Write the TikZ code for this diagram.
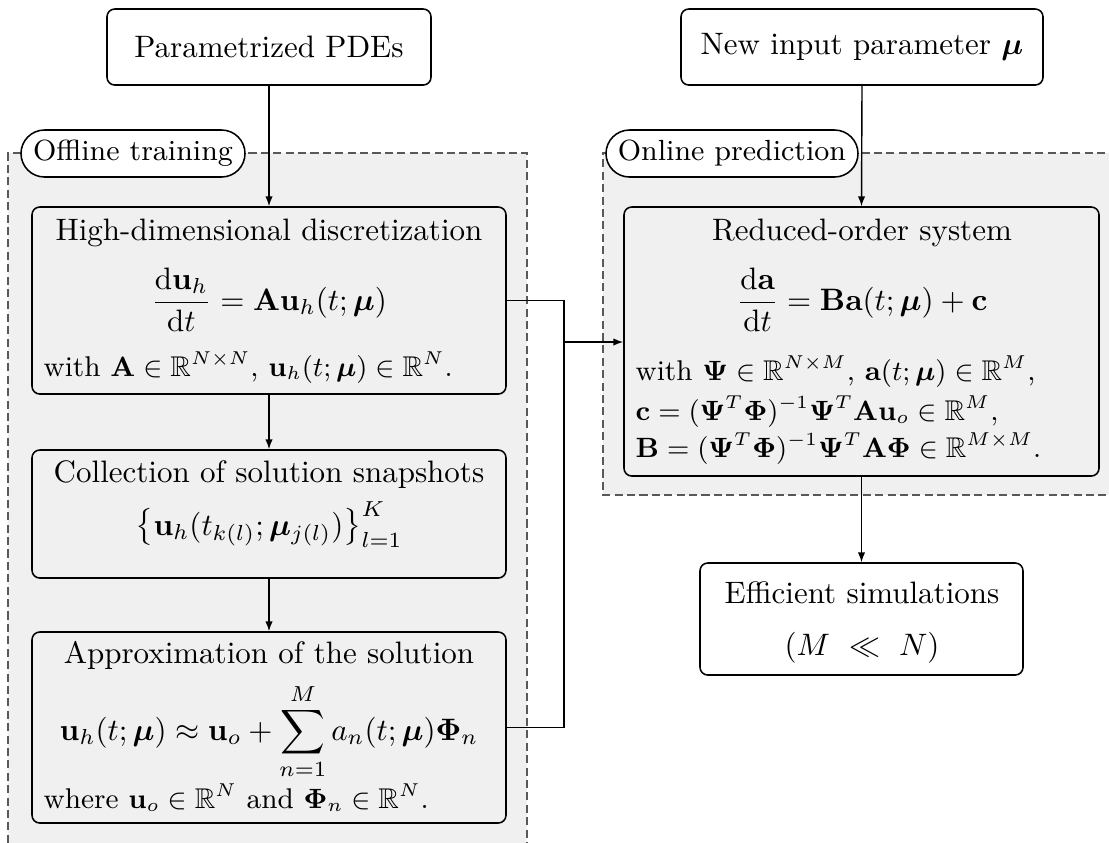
\documentclass[tikz,border=0pt]{standalone}
\usepackage{amsmath,amssymb,bm}
\usetikzlibrary{arrows.meta,shapes.misc}
\definecolor{regiongray}{gray}{0.94}
\definecolor{dashgray}{gray}{0.35}
\begin{document}
\begin{tikzpicture}[x=0.3225pt,y=-0.3225pt,
  box/.style={draw=black, rounded corners=2.5pt, fill=white, inner sep=0pt, line width=0.5pt},
  gbox/.style={box, fill=regiongray},
  pill/.style={draw=black, rounded rectangle, fill=white, inner sep=0pt, line width=0.5pt, font=\fontsize{9.4}{11}\selectfont},
  regionborder/.style={draw=dashgray, dash pattern=on 2.6pt off 1.4pt, line width=0.5pt},
  arr/.style={-{Latex[length=3.2pt,width=2.4pt]}, line width=0.45pt},
  txt/.style={inner sep=0pt, anchor=base},
  sm/.style={txt, font=\fontsize{9.2}{11}\selectfont}]
\useasboundingbox (0,0) rectangle (1109,842);
\clip (0,0) rectangle (1109,842);
% regions
\fill[regiongray] (8,153) rectangle (527,880);
\fill[regiongray] (603,153) rectangle (1130,495);
\draw[regionborder] (8,880) -- (8,153) -- (527,153) -- (527,880);
\draw[regionborder] (1130,153) -- (603,153) -- (603,495) -- (1130,495);
% boxes
\node[box, minimum width={324*0.3225pt}, minimum height={76*0.3225pt}] (pde) at (269,47) {Parametrized PDEs};
\node[box, minimum width={362*0.3225pt}, minimum height={76*0.3225pt}] (new) at (862,47) {New input parameter $\boldsymbol{\mu}$};
\node[gbox, minimum width={474*0.3225pt}, minimum height={187*0.3225pt}] (hd) at (269,300.5) {};
\node[gbox, minimum width={474*0.3225pt}, minimum height={128*0.3225pt}] (cs) at (269,514) {};
\node[gbox, minimum width={474*0.3225pt}, minimum height={191*0.3225pt}] (ap) at (269,727.5) {};
\node[gbox, minimum width={475*0.3225pt}, minimum height={269*0.3225pt}] (ro) at (861.5,341.5) {};
\node[box, minimum width={323*0.3225pt}, minimum height={112*0.3225pt}] (eff) at (861.5,619) {};
\node[pill, minimum width={224*0.3225pt}, minimum height={47*0.3225pt}] (off) at (133,153.5) {Offline training};
\node[pill, minimum width={252*0.3225pt}, minimum height={47*0.3225pt}] (on) at (732,153.5) {Online prediction};
% texts
\node[txt] (hdT) at (269,240) {High-dimensional discretization};
\node[txt] (hdE) at (269,310) {$\displaystyle \frac{\mathrm{d}\mathbf{u}_h}{\mathrm{d}t} = \mathbf{A}\mathbf{u}_h(t;\boldsymbol{\mu})$};
\node[sm, anchor=base west] (hdW) at (43,376) {with $\mathbf{A}\in\mathbb{R}^{N\times N}$, $\mathbf{u}_h(t;\boldsymbol{\mu})\in\mathbb{R}^N$.};
\node[txt] (csT) at (269,482) {Collection of solution snapshots};
\node[txt] (csE) at (269,535) {$\bigl\{\mathbf{u}_h(t_{k(l)};\boldsymbol{\mu}_{j(l)})\bigr\}_{l=1}^{K}$};
\node[txt] (apT) at (269,663) {Approximation of the solution};
\node[txt] (apE) at (269,740) {$\displaystyle \mathbf{u}_h(t;\boldsymbol{\mu}) \approx \mathbf{u}_o + \sum_{n=1}^{M} a_n(t;\boldsymbol{\mu})\boldsymbol{\Phi}_n$};
\node[sm, anchor=base west] (apW) at (43,808) {where $\mathbf{u}_o\in\mathbb{R}^N$ and $\boldsymbol{\Phi}_n\in\mathbb{R}^N$.};
\node[txt] (roT) at (862,240) {Reduced-order system};
\node[txt] (roE) at (862,310) {$\displaystyle \frac{\mathrm{d}\mathbf{a}}{\mathrm{d}t} = \mathbf{B}\mathbf{a}(t;\boldsymbol{\mu}) + \mathbf{c}$};
\node[sm, anchor=base west] (roW1) at (635,380) {with $\boldsymbol{\Psi}\in\mathbb{R}^{N\times M}$, $\mathbf{a}(t;\boldsymbol{\mu})\in\mathbb{R}^M$,};
\node[sm, anchor=base west] (roW2) at (635,420) {$\mathbf{c} = (\boldsymbol{\Psi}^T\boldsymbol{\Phi})^{-1}\boldsymbol{\Psi}^T\mathbf{A}\mathbf{u}_o \in\mathbb{R}^M$,};
\node[sm, anchor=base west] (roW3) at (635,457) {$\mathbf{B} = (\boldsymbol{\Psi}^T\boldsymbol{\Phi})^{-1}\boldsymbol{\Psi}^T\mathbf{A}\boldsymbol{\Phi}\in\mathbb{R}^{M\times M}$.};
\node[txt] (effT) at (862,603) {Efficient simulations};
\node[txt] (effE) at (862,655) {$(M\ \ll\ N)$};
% connectors
\coordinate (j) at (564,342);
\draw[arr] (pde.south) -- (hd.north);
\draw[arr] (hd.south) -- (cs.north);
\draw[arr] (cs.south) -- (ap.north);
\draw[arr] (new.south) -- (ro.north);
\draw[arr] (ro.south) -- (eff.north);
\draw[line width=0.45pt] (hd.east) -| (j);
\draw[line width=0.45pt] (ap.east) -| (j);
\draw[arr] (j) -- (j -| ro.west);
\end{tikzpicture}
\end{document}
